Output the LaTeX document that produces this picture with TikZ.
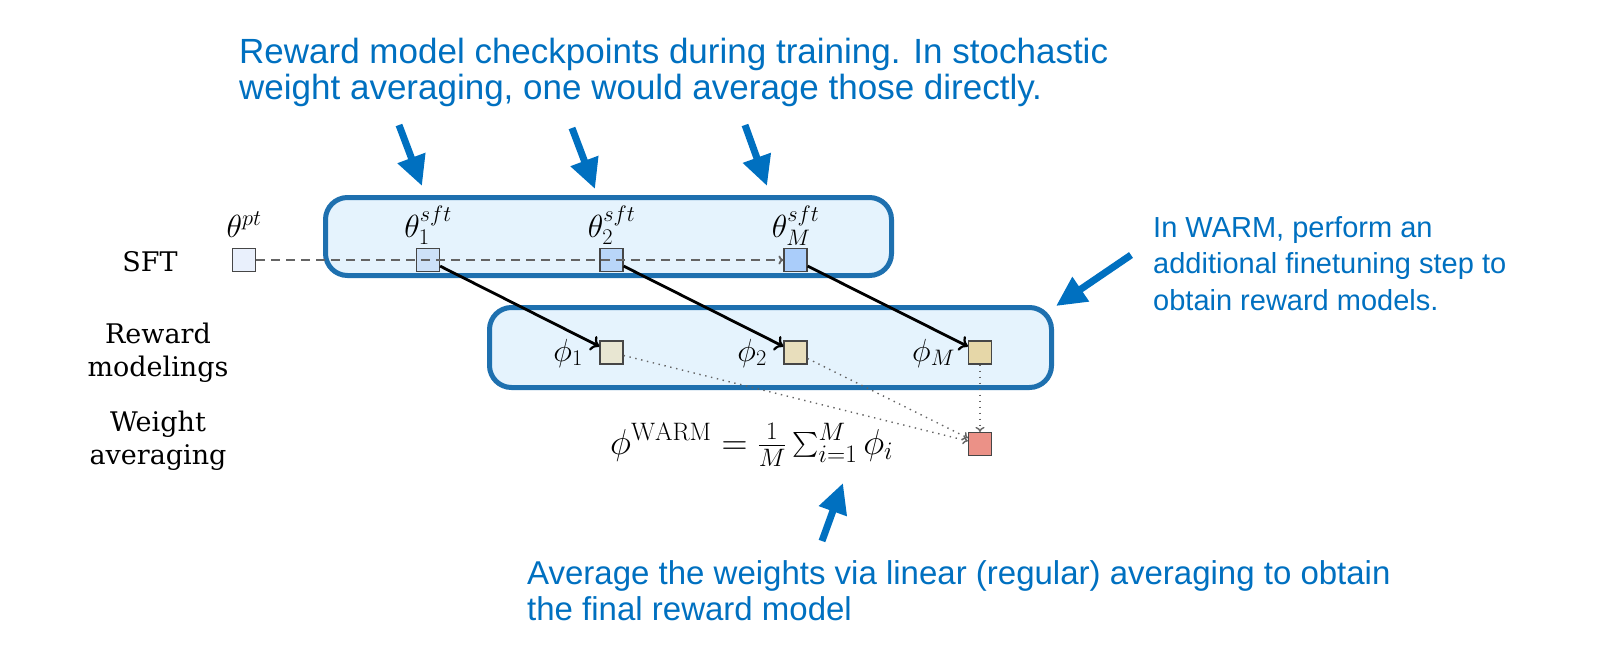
\RequirePackage{fix-cm}
\documentclass[tikz,border=0pt]{standalone}
\usepackage{amsmath}
\usepackage{fontspec}
\newfontfamily\annfont{Liberation Sans}
\newfontfamily\sidefont{DejaVu Serif}
\usetikzlibrary{arrows.meta}
\definecolor{annblue}{RGB}{0,112,192}
\definecolor{boxblue}{RGB}{30,112,175}
\definecolor{boxfill}{RGB}{229,243,253}
\definecolor{sqedge}{RGB}{70,70,70}
\definecolor{cpt}{RGB}{233,240,252}
\definecolor{csa}{RGB}{205,225,248}
\definecolor{csb}{RGB}{185,214,248}
\definecolor{csm}{RGB}{170,205,250}
\definecolor{cpa}{RGB}{232,230,210}
\definecolor{cpb}{RGB}{232,222,188}
\definecolor{cpm}{RGB}{230,215,168}
\definecolor{cred}{RGB}{235,145,135}
\definecolor{lgray}{RGB}{100,100,100}
\begin{document}
\begin{tikzpicture}[x=1pt,y=-1pt,
  sq/.style={draw=sqedge, line width=1.2pt, minimum size=23pt, inner sep=0pt},
  grpbox/.style={draw=boxblue, fill=boxfill, line width=5pt, rounded corners=22pt},
  lbl/.style={inner sep=0pt, font=\fontsize{32}{36}\selectfont},
  fml/.style={inner sep=0pt, font=\fontsize{36}{40}\selectfont},
  sidelbl/.style={inner sep=0pt, align=center, font=\sidefont\fontsize{27}{33}\selectfont},
  ann/.style={inner sep=0pt, align=left, text=annblue},
  annarrow/.style={draw=annblue, line width=7pt, -{Triangle[length=30pt,width=28pt]}},
  trainarrow/.style={draw=black, line width=2.8pt, -{Computer Modern Rightarrow[length=8pt,width=16pt,line width=2.2pt]}},
  sftline/.style={draw=lgray, line width=1.8pt, dash pattern=on 9pt off 6pt, -{To[length=5pt,width=9pt]}},
  avgline/.style={draw=lgray, line width=1.4pt, dash pattern=on 1.4pt off 4.6pt, -{To[length=5pt,width=9pt]}}
]
\useasboundingbox (0,0) rectangle (1600,646);

% group boxes
\draw[grpbox] (325.5,197.5) rectangle (891.5,275.5);
\draw[grpbox] (489.5,307.5) rectangle (1051.5,387.5);

% squares
\node[sq, fill=cpt] (tpt) at (244,260) {};
\node[sq, fill=csa] (t1) at (428,260) {};
\node[sq, fill=csb] (t2) at (611.5,260) {};
\node[sq, fill=csm] (tM) at (795.5,260) {};
\node[sq, fill=cpa] (p1) at (611.5,352.5) {};
\node[sq, fill=cpb] (p2) at (795.5,352.5) {};
\node[sq, fill=cpm] (pM) at (980,352.5) {};
\node[sq, fill=cred] (pw) at (980,444) {};

% labels of squares
\node[lbl, anchor=base] (ltpt) at (244,237) {$\theta^{pt}$};
\node[lbl, anchor=base] (lt1) at (428,237) {$\theta^{sft}_1$};
\node[lbl, anchor=base] (lt2) at (611.5,237) {$\theta^{sft}_2$};
\node[lbl, anchor=base] (ltM) at (795.5,237) {$\theta^{sft}_M$};
\node[lbl, anchor=base east] (lp1) at (583,361) {$\phi_1$};
\node[lbl, anchor=base east] (lp2) at (767,361) {$\phi_2$};
\node[lbl, anchor=base east] (lpM) at (955,361) {$\phi_M$};
\node[fml, anchor=base west] (formula) at (610,454) {$\phi^{\mathrm{WARM}} = \frac{1}{M}\sum_{i=1}^{M}\phi_i$};

% side labels
\node[sidelbl] (sft) at (150,262) {SFT};
\node[sidelbl] (rm) at (158,353) {Reward\\modelings};
\node[sidelbl] (wa) at (158,441) {Weight\\averaging};

% connectors
\draw[sftline] (tpt) -- (tM);
\draw[trainarrow] (t1) -- (p1);
\draw[trainarrow] (t2) -- (p2);
\draw[trainarrow] (tM) -- (pM);
\draw[avgline] (p1) -- (pw);
\draw[avgline] (p2) -- (pw);
\draw[avgline] (pM) -- (pw);

% annotations
\node[ann, anchor=north west, font=\annfont\fontsize{35}{35.5}\selectfont] (anntop) at (239,38) {Reward model checkpoints during training. In stochastic\\weight averaging, one would average those directly.};
\node[ann, anchor=north west, font=\annfont\fontsize{29}{36.5}\selectfont] (annright) at (1153,216) {In WARM, perform an\\additional finetuning step to\\obtain reward models.};
\node[ann, anchor=north west, font=\annfont\fontsize{33}{36}\selectfont] (annbot) at (527,560) {Average the weights via linear (regular) averaging to obtain\\the final reward model};

\coordinate (a1s) at (399,125); \coordinate (a1e) at (422,186);
\coordinate (a2s) at (572,128); \coordinate (a2e) at (595,189);
\coordinate (a3s) at (745,125); \coordinate (a3e) at (767,186);
\coordinate (a4s) at (1131,255); \coordinate (a4e) at (1056,306);
\coordinate (a5s) at (822,541); \coordinate (a5e) at (843,483);
\draw[annarrow] (a1s) -- (a1e);
\draw[annarrow] (a2s) -- (a2e);
\draw[annarrow] (a3s) -- (a3e);
\draw[annarrow] (a4s) -- (a4e);
\draw[annarrow] (a5s) -- (a5e);
\end{tikzpicture}
\end{document}
